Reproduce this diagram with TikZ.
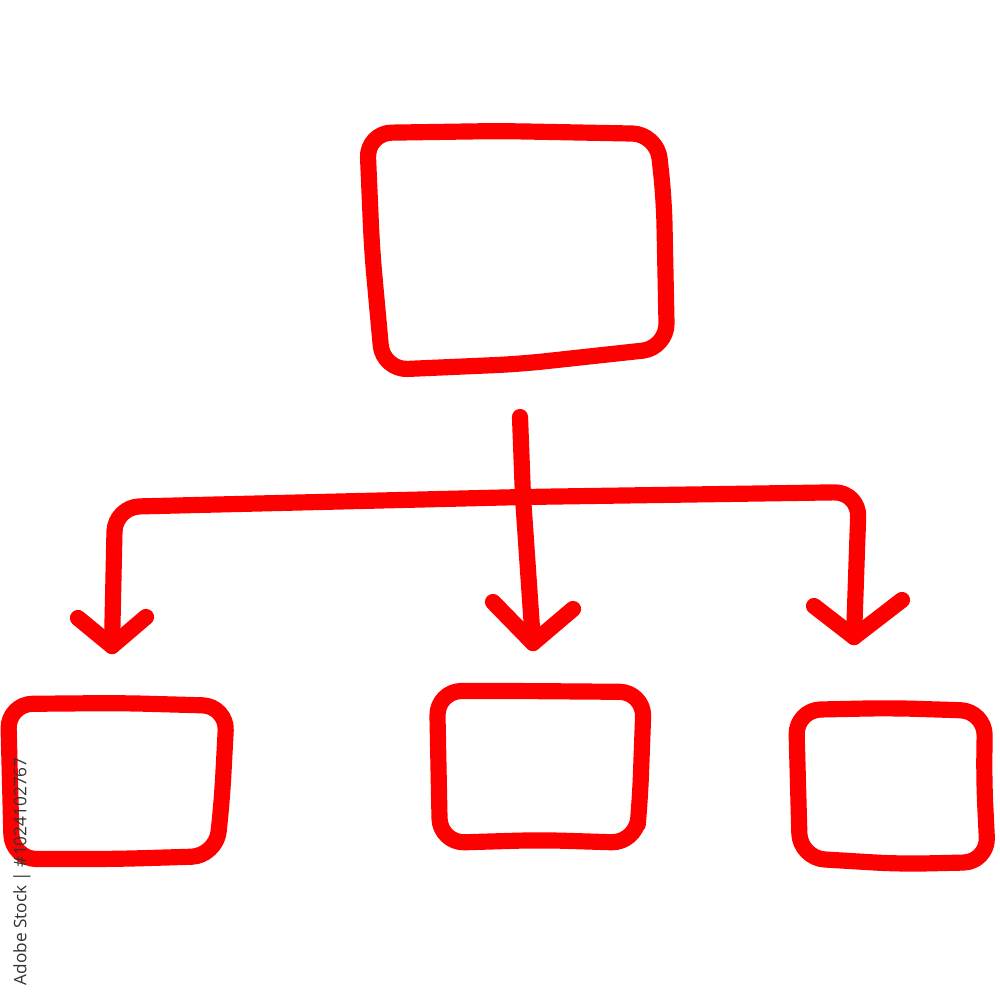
\documentclass[tikz,border=0pt]{standalone}
\usepackage{fontspec}
\newfontfamily\wmfont{Open Sans}
\definecolor{penred}{HTML}{FF0000}
\definecolor{wmgray}{HTML}{333333}
\begin{document}
\begin{tikzpicture}[x=0.01cm,y=-0.01cm,
  hand/.style={draw=penred,line width=4.6pt,line cap=round,line join=round,rounded corners=7pt},
  handsharp/.style={draw=penred,line width=4.6pt,line cap=round,line join=round},
  boxanchor/.style={inner sep=0pt,minimum size=0pt}]
\useasboundingbox[fill=white] (0,0) rectangle (1000,1000);

% named anchors for the boxes
\node[boxanchor] (root) at (516,250) {};
\node[boxanchor] (left) at (118,782) {};
\node[boxanchor] (mid) at (540,767) {};
\node[boxanchor] (right) at (892,786) {};

% top box
\draw[hand] (500,131) -- (657,134) -- (664,200) -- (667,348) -- (520,364) -- (383,370) -- (372,250) -- (367,133) -- cycle;
% left box
\draw[hand] (120,703) -- (227,706) -- (222,800) -- (216,856) -- (115,859) -- (12,859) -- (8,704) -- cycle;
% middle box
\draw[hand] (520,691) -- (644,692) -- (640,800) -- (636,843) -- (540,840) -- (440,843) -- (437,691) -- cycle;
% right box
\draw[hand] (890,708) -- (985,711) -- (984,780) -- (988,862) -- (900,864) -- (800,858) -- (796,710) -- cycle;

% connector points
\coordinate (stemtop) at (520,417);
\coordinate (junc) at (523,497);
\coordinate (lcorner) at (115,507);
\coordinate (rcorner) at (859,492);
\coordinate (ltip) at (112,646);
\coordinate (mtip) at (533,643);
\coordinate (rtip) at (854,637);

\draw[handsharp] (stemtop) -- (junc);
\draw[hand] (ltip) -- (lcorner) -- (junc) -- (rcorner) -- (rtip);
\draw[handsharp] (junc) -- (mtip);

% arrowheads
\coordinate (lw1) at (78,618); \coordinate (lw2) at (146,617);
\coordinate (mw1) at (493,602); \coordinate (mw2) at (573,609);
\coordinate (rw1) at (814,606); \coordinate (rw2) at (902,600);
\draw[handsharp] (lw1) -- (ltip) -- (lw2);
\draw[handsharp] (mw1) -- (mtip) -- (mw2);
\draw[handsharp] (rw1) -- (rtip) -- (rw2);

% vertical watermark text
\node[rotate=90,anchor=west,inner sep=0pt,text=wmgray,font=\wmfont\fontsize{4.9}{6}\selectfont] (wm) at (22,986) {Adobe Stock | \#1024102767};
\end{tikzpicture}
\end{document}
